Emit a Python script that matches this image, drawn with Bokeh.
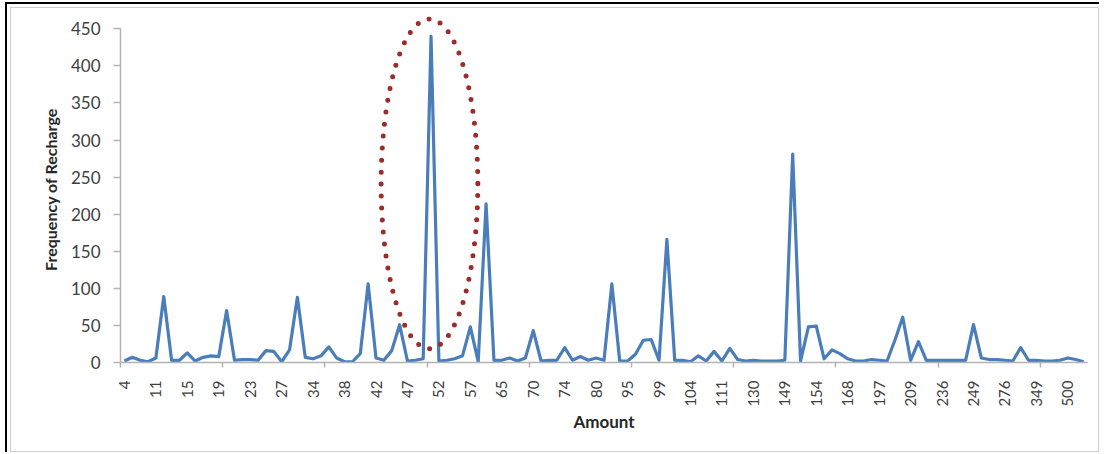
import math
from bokeh.plotting import figure
from bokeh.models import Range1d, FixedTicker
from bokeh.embed import file_html
from bokeh.resources import INLINE

# ---- data ----
amount_labels = ["4", "11", "15", "19", "23", "27", "34", "38", "42", "47", "52",
                 "57", "65", "70", "74", "80", "95", "99", "104", "111", "130",
                 "149", "154", "168", "197", "209", "236", "249", "276", "349", "500"]

frequency = [2, 7, 3, 1, 6, 89, 3, 3, 13, 2,
             7, 9, 8, 70, 3, 4, 4, 3, 16, 15,
             1, 17, 88, 7, 5, 9, 21, 6, 1, 1,
             12, 106, 6, 3, 16, 51, 2, 3, 5, 440,
             2, 3, 5, 9, 48, 1, 214, 3, 3, 6,
             2, 6, 43, 2, 3, 3, 20, 3, 8, 3,
             6, 3, 106, 2, 2, 11, 30, 31, 3, 166,
             3, 3, 1, 9, 2, 15, 2, 19, 4, 2,
             3, 2, 2, 2, 3, 281, 2, 48, 49, 5,
             17, 12, 5, 2, 2, 4, 3, 2, 30, 61,
             3, 28, 3, 3, 3, 3, 3, 3, 51, 6,
             4, 4, 3, 2, 20, 3, 3, 2, 2, 3,
             6, 4, 1]

y_ticks = list(range(0, 451, 50))

LABEL_EVERY = 4      # one amount label every 4 categories
MINOR_EVERY = 13     # axis tick marks every 13 categories

# highlight ellipse around the peak (annotation)
HL_DX, HL_Y, HL_W, HL_H = -0.2, 241, 12.3, 445

n = len(frequency)
idx = list(range(n))

p = figure(width=1094, height=450,
           x_range=Range1d(-0.5, n - 0.5), y_range=Range1d(0, 466.6),
           output_backend="svg", toolbar_location=None,
           min_border_left=113, min_border_right=14,
           min_border_top=12, min_border_bottom=92,
           background_fill_color="white", border_fill_color=None)
p.styles = {"margin-left": "5px", "margin-top": "2px",
            "background-color": "#ffffff",
            "border-top": "2px solid #000000",
            "border-left": "2px solid #000000",
            "box-shadow": "inset 3px 3px 0 0 #ffffff, inset 4px 4px 0 0 #cfcfcf, "
                          "inset -1px -1px 0 0 #cfcfcf"}

p.xgrid.visible = False
p.ygrid.visible = False
p.outline_line_color = None

p.line(idx, frequency, line_width=3.2, line_color="#4a7ebb", line_join="round")

peak = frequency.index(max(frequency))
p.ellipse(x=[peak + HL_DX], y=[HL_Y], width=[HL_W], height=[HL_H],
          fill_color=None, line_color="#9b2c2c", line_width=5,
          line_dash="0 12", line_cap="round")

tick_pos = list(range(0, LABEL_EVERY * len(amount_labels), LABEL_EVERY))
minor = [-0.5 + MINOR_EVERY * k for k in range(0, int((n - 1) / MINOR_EVERY) + 1)]
p.xaxis.ticker = FixedTicker(ticks=tick_pos, minor_ticks=minor)
p.xaxis.major_label_overrides = {t: lab for t, lab in zip(tick_pos, amount_labels)}
p.xaxis.major_label_orientation = math.pi / 2
p.xaxis.major_tick_out = 0
p.xaxis.major_tick_in = 0
p.xaxis.minor_tick_out = 5
p.xaxis.minor_tick_in = 0
p.xaxis.minor_tick_line_color = "#b3b3b3"
p.xaxis.minor_tick_line_width = 1.5
p.xaxis.major_label_standoff = 13
p.xaxis.axis_label = "Amount"
p.xaxis.axis_label_standoff = 1

p.yaxis.ticker = FixedTicker(ticks=y_ticks)
p.yaxis.bounds = (0, 450)
p.yaxis.major_tick_out = 7
p.yaxis.major_tick_in = 0
p.yaxis.minor_tick_line_color = None
p.yaxis.major_label_standoff = 13
p.yaxis.axis_label = "Frequency of Recharge"
p.yaxis.axis_label_standoff = 8

for ax in (p.xaxis[0], p.yaxis[0]):
    ax.axis_line_color = "#b3b3b3"
    ax.axis_line_width = 1.5
    ax.major_tick_line_color = "#b3b3b3"
    ax.major_tick_line_width = 1.5
    ax.major_label_text_font = "Lato"
    ax.major_label_text_color = "#404040"
    ax.axis_label_text_font = "Lato"
    ax.axis_label_text_font_style = "bold"
    ax.axis_label_text_color = "#262626"

p.xaxis.axis_label_text_font_size = "17px"
p.yaxis.axis_label_text_font_size = "16px"
p.xaxis.major_label_text_font_size = "15px"
p.yaxis.major_label_text_font_size = "17px"

open("out.html", "w").write(file_html(p, INLINE))
